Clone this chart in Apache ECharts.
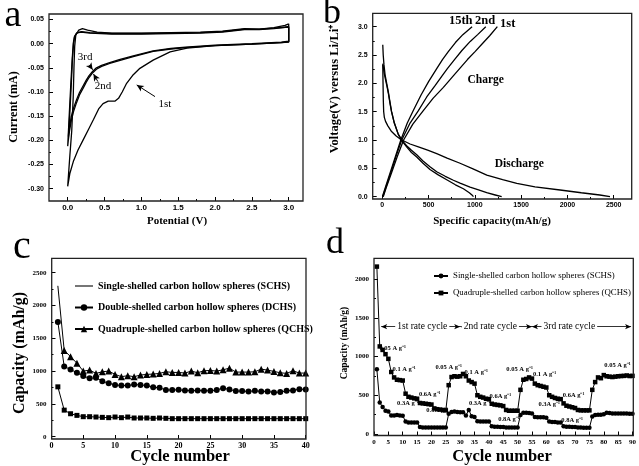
<!DOCTYPE html>
<html><head><meta charset="utf-8">
<script src="https://cdn.jsdelivr.net/npm/echarts@6/dist/echarts.min.js"></script>
<style>html,body{margin:0;padding:0;background:#fff}#c{width:639px;height:466px}</style>
</head><body><div id="c"></div>
<script>
const SERIF = "'Liberation Serif','Times New Roman',serif";
const SANS = "'Liberation Sans',Arial,sans-serif";

// ---------------- Panel a: cyclic voltammetry (V, mA) ----------------
const cvCycle1 = [[3.00,0.041],[3.00,0.003],[2.90,0.002],[2.50,-0.001],[2.00,-0.004],[1.62,-0.009],[1.39,-0.017],[1.16,-0.034],[0.98,-0.051],[0.88,-0.066],[0.80,-0.082],[0.74,-0.100],[0.69,-0.113],[0.64,-0.119],[0.55,-0.119],[0.48,-0.124],[0.42,-0.135],[0.35,-0.157],[0.28,-0.178],[0.21,-0.199],[0.14,-0.220],[0.08,-0.242],[0.03,-0.268],[0.00,-0.295],[0.03,-0.230],[0.055,-0.180],[0.075,-0.110],[0.085,-0.050],[0.095,-0.005],[0.11,0.018],[0.15,0.028],[0.20,0.031],[0.27,0.028],[0.40,0.024],[0.60,0.022],[1.00,0.022],[1.40,0.023],[1.80,0.024],[2.10,0.026],[2.40,0.031],[2.60,0.030],[2.80,0.033],[2.95,0.038],[3.00,0.041]];
const cvCycle2 = [[3.00,0.036],[3.00,0.004],[2.90,0.002],[2.50,-0.001],[2.00,-0.004],[1.60,-0.008],[1.40,-0.011],[1.16,-0.016],[0.89,-0.027],[0.70,-0.035],[0.57,-0.041],[0.46,-0.047],[0.39,-0.053],[0.34,-0.060],[0.29,-0.070],[0.25,-0.080],[0.21,-0.092],[0.16,-0.106],[0.12,-0.122],[0.08,-0.140],[0.05,-0.158],[0.025,-0.180],[0.008,-0.200],[0.00,-0.212],[0.02,-0.150],[0.04,-0.090],[0.06,-0.035],[0.075,0.000],[0.09,0.014],[0.12,0.022],[0.18,0.024],[0.30,0.022],[0.60,0.020],[1.00,0.020],[1.40,0.021],[1.80,0.022],[2.10,0.024],[2.40,0.029],[2.60,0.029],[2.80,0.031],[2.95,0.034],[3.00,0.036]];
const cvCycle3 = [[3.00,0.034],[3.00,0.005],[2.90,0.003],[2.50,0.000],[2.00,-0.003],[1.60,-0.007],[1.40,-0.010],[1.16,-0.015],[0.89,-0.025],[0.70,-0.033],[0.57,-0.039],[0.46,-0.045],[0.39,-0.050],[0.34,-0.057],[0.29,-0.066],[0.25,-0.076],[0.21,-0.087],[0.16,-0.101],[0.12,-0.116],[0.08,-0.133],[0.05,-0.150],[0.03,-0.168],[0.015,-0.180],[0.01,-0.192],[0.03,-0.140],[0.05,-0.080],[0.065,-0.030],[0.08,0.000],[0.095,0.015],[0.13,0.023],[0.19,0.025],[0.30,0.023],[0.60,0.021],[1.00,0.021],[1.40,0.022],[1.80,0.023],[2.10,0.025],[2.40,0.030],[2.60,0.030],[2.80,0.032],[2.95,0.034],[3.00,0.034]];

// ---------------- Panel b: charge/discharge (mAh/g, V) ----------------
const dis1 = [[5,2.33],[8,2.0],[11,1.7],[15,1.5],[22,1.4],[35,1.33],[60,1.25],[100,1.15],[150,1.07],[200,1.01],[300,0.93],[390,0.88],[490,0.82],[588,0.76],[700,0.68],[840,0.59],[980,0.49],[1129,0.38],[1300,0.30],[1453,0.235],[1650,0.175],[1921,0.118],[2150,0.07],[2350,0.03],[2460,0.0]];
const dis2 = [[5,2.35],[10,2.3],[18,2.2],[30,2.1],[50,1.95],[65,1.83],[85,1.63],[100,1.50],[130,1.30],[173,1.10],[215,0.99],[263,0.90],[315,0.82],[372,0.74],[440,0.63],[515,0.53],[588,0.44],[680,0.36],[768,0.29],[840,0.24],[948,0.17],[1040,0.12],[1128,0.07],[1220,0.03],[1290,0.0]];
const dis15 = [[5,2.68],[10,2.5],[18,2.33],[30,2.15],[50,1.98],[65,1.85],[85,1.65],[100,1.50],[130,1.30],[173,1.10],[215,0.98],[263,0.88],[315,0.78],[372,0.70],[440,0.59],[515,0.48],[600,0.39],[696,0.30],[790,0.21],[876,0.14],[940,0.07],[975,0.02],[985,0.0]];
const chg1 = [[10,0.0],[40,0.15],[100,0.42],[160,0.70],[230,1.0],[330,1.28],[443,1.52],[550,1.74],[660,1.93],[760,2.12],[840,2.27],[920,2.42],[1002,2.56],[1080,2.70],[1160,2.84],[1243,3.0]];
const chg2 = [[5,0.0],[40,0.17],[100,0.46],[150,0.72],[210,1.0],[300,1.30],[390,1.52],[480,1.76],[570,1.96],[640,2.12],[703,2.26],[780,2.42],[860,2.58],[950,2.74],[1030,2.86],[1118,3.0]];
const chg15 = [[5,0.02],[40,0.2],[100,0.5],[150,0.75],[200,1.0],[270,1.30],[335,1.52],[420,1.80],[500,2.03],[588,2.26],[650,2.42],[713,2.56],[790,2.72],[870,2.86],[970,3.0]];

// ---------------- Panel c: cycling at constant rate ----------------
const cyclesC = [1,2,3,4,5,6,7,8,9,10,11,12,13,14,15,16,17,18,19,20,21,22,23,24,25,26,27,28,29,30,31,32,33,34,35,36,37,38,39,40];
const schsC = [760,405,350,325,305,305,300,295,290,300,290,300,285,285,285,280,285,280,275,275,275,275,275,275,275,275,275,275,275,275,275,275,275,275,275,275,275,275,275,275];
const dchsC = [1750,1070,1025,975,925,890,900,845,815,790,780,780,795,790,780,755,745,712,712,715,705,700,705,700,700,712,740,720,695,695,690,700,690,690,675,680,700,705,725,720];
const qchsC = [2300,1315,1220,1120,1000,1015,965,990,1000,950,915,930,915,940,950,955,965,990,980,980,970,1000,975,1005,1010,1000,1020,1045,985,985,985,990,1030,1015,995,975,965,1005,970,970];

// ---------------- Panel d: rate performance ----------------
const cyclesD = [];
for (let i = 1; i <= 90; i++) cyclesD.push(i);
const schsD = [835,405,350,300,290, 240,240,245,240,235, 160,150,150,150,150, 90,85,85,85,85, 85,85,85,85,85, 260,285,290,285,280,
               280,240,310,230,220, 165,160,160,160,160, 100,95,95,90,90, 85,85,85,85,85, 245,275,275,270,265,
               220,215,215,215,210, 160,155,155,150,150, 100,95,95,90,90, 85,85,80,80,80,
               225,245,250,250,255,275,270,265,265,265,265,265,265,260,260];
const qchsD = [2160,1130,1085,1030,970, 800,730,700,695,690, 520,480,470,460,455, 400,395,390,385,380, 330,320,315,310,305, 630,735,745,740,745,
               775,745,690,670,650, 500,480,470,455,450, 390,380,375,370,360, 310,300,300,300,300, 570,700,710,730,715,
               650,630,620,610,600, 500,480,465,455,450, 395,365,355,345,335, 310,305,305,305,305,
               570,670,730,720,760,745,740,735,740,745,748,750,755,748,750];

const legendText = {
  cS: 'Single-shelled carbon hollow spheres (SCHS)',
  cD: 'Double-shelled carbon hollow spheres (DCHS)',
  cQ: 'Quadruple-shelled carbon hollow spheres (QCHS)',
  dS: 'Single-shelled carbon hollow spheres (SCHS)',
  dQ: 'Quadruple-shelled carbon hollow spheres (QCHS)'
};

function zip(xs, ys) { return xs.map((x, i) => [x, ys[i]]); }

function mkAxis(gi, min, max, interval, offset, fmt, fs, margin, minor, fam) {
  return {
    type: 'value', gridIndex: gi, min: min, max: max, interval: interval, offset: offset,
    axisLine: { show: false, onZero: false }, splitLine: { show: false },
    axisTick: { show: true, inside: true, length: 4, lineStyle: { color: '#000', width: 1 } },
    minorTick: { show: minor, splitNumber: 2, length: 2, lineStyle: { color: '#000', width: 1 } },
    axisLabel: { formatter: fmt, fontSize: fs, fontWeight: 'bold', fontFamily: fam || SANS, color: '#000', margin: margin }
  };
}

const chart = echarts.init(document.getElementById('c'), null, { renderer: 'canvas' });

const lineS = (name, data, xi, extra) => Object.assign({
  type: 'line', name: name, data: data, xAxisIndex: xi, yAxisIndex: xi, showSymbol: false, symbol: 'none',
  lineStyle: { color: '#000', width: 1.3 }, itemStyle: { color: '#000' }, clip: false, silent: true, animation: false
}, extra || {});

const arrowMark = (pairs) => ({
  silent: true, symbol: ['none', 'arrow'], symbolSize: [5, 7], label: { show: false },
  lineStyle: { color: '#000', width: 1, type: 'solid' },
  data: pairs.map(p => [{ coord: p[0] }, { coord: p[1] }])
});

const option = {
  animation: false,
  backgroundColor: '#fff',
  grid: [
    { left: 67.7, top: 19.5, width: 221, height: 169.2 },
    { left: 382.3, top: 26.7, width: 231.4, height: 170 },
    { left: 51.5, top: 272.7, width: 254.2, height: 164 },
    { left: 374, top: 279, width: 259.3, height: 155 }
  ],
  xAxis: [
    mkAxis(0, 0, 3, 0.5, 12.3, v => v.toFixed(1), 8, 3, true),
    mkAxis(1, 0, 2500, 500, 2.3, v => String(v), 7, 3, true),
    mkAxis(2, 0, 40, 5, 2.3, v => String(v), 8, 3, false, SERIF),
    mkAxis(3, 0, 90, 5, 1.5, v => String(v), 7, 3, false, SERIF)
  ],
  yAxis: [
    mkAxis(0, -0.30, 0.05, 0.05, 18.7, v => v.toFixed(2), 7, 5, true),
    mkAxis(1, 0, 3, 0.5, 9.6, v => v.toFixed(1), 7, 5, true),
    mkAxis(2, 0, 2500, 500, 0, v => String(v), 7, 5, true, SERIF),
    mkAxis(3, 0, 2000, 500, 0, v => String(v), 7, 5, true, SERIF)
  ],
  legend: [
    {
      orient: 'vertical', left: 69, top: 275, itemGap: 9.5, itemWidth: 18, itemHeight: 8, selectedMode: false,
      data: [{ name: 'cS', icon: 'path://M0,0H20V1.2H0Z' }, 'cD', 'cQ'],
      formatter: n => legendText[n],
      textStyle: { fontFamily: SERIF, fontWeight: 'bold', fontSize: 10, color: '#000', lineHeight: 12 }
    },
    {
      orient: 'vertical', left: 428, top: 265, itemGap: 5, itemWidth: 14, itemHeight: 6, selectedMode: false,
      data: ['dS', 'dQ'],
      formatter: n => legendText[n],
      textStyle: { fontFamily: SERIF, fontSize: 8.8, color: '#000', lineHeight: 12 }
    }
  ],
  series: [
    lineS('cv1', cvCycle1, 0, { markLine: arrowMark([
      [[0.293, -0.044], [0.339, -0.054]],
      [[0.41, -0.0785], [0.35, -0.0626]],
      [[1.185, -0.1095], [0.937, -0.0853]]
    ]) }),
    lineS('cv2', cvCycle2, 0),
    lineS('cv3', cvCycle3, 0),
    lineS('dis1', dis1, 1),
    lineS('dis2', dis2, 1),
    lineS('dis15', dis15, 1),
    lineS('chg1', chg1, 1),
    lineS('chg2', chg2, 1),
    lineS('chg15', chg15, 1),
    lineS('cS', zip(cyclesC, schsC), 2, { showSymbol: true, symbol: 'rect', symbolSize: 5, lineStyle: { color: '#000', width: 1 } }),
    lineS('cD', zip(cyclesC, dchsC), 2, { showSymbol: true, symbol: 'circle', symbolSize: 6, lineStyle: { color: '#000', width: 1 } }),
    lineS('cQ', zip(cyclesC, qchsC).map((p, i) => i === 0 ? { value: p, symbol: 'none' } : p), 2,
      { showSymbol: true, symbol: 'triangle', symbolSize: 7, lineStyle: { color: '#000', width: 1 } }),
    lineS('dS', zip(cyclesD, schsD), 3, { showSymbol: true, symbol: 'circle', symbolSize: 4.5, lineStyle: { color: '#000', width: 1 } }),
    lineS('dQ', zip(cyclesD, qchsD), 3, { showSymbol: true, symbol: 'rect', symbolSize: 4.5, lineStyle: { color: '#000', width: 1 },
      markLine: {
        silent: true, symbol: ['arrow', 'arrow'], symbolSize: [4, 6], label: { show: false },
        lineStyle: { color: '#000', width: 0.8, type: 'solid' },
        data: [
          [{ coord: [2.5, 1385] }, { coord: [30, 1385] }],
          [{ coord: [30, 1385] }, { coord: [55, 1385] }],
          [{ coord: [55, 1385] }, { coord: [89.5, 1385] }],
          [{ coord: [30, 1580], symbol: 'none', lineStyle: { type: [5, 2, 1, 2], width: 1 } }, { coord: [30, -19], symbol: 'none' }],
          [{ coord: [55, 1580], symbol: 'none', lineStyle: { type: [5, 2, 1, 2], width: 1 } }, { coord: [55, -19], symbol: 'none' }]
        ]
      }
    })
  ]
};
chart.setOption(option);

// ---------- decorations & annotations ----------
const frames = [[49, 14, 254, 187], [372.7, 13.3, 259, 185.7], [51.7, 258.3, 254.3, 180.7], [374, 258.3, 259.3, 177.2]];
const g = [];
frames.forEach((f, i) => g.push({ type: 'rect', id: 'fr' + i, silent: true, z: 10,
  shape: { x: f[0], y: f[1], width: f[2], height: f[3] }, style: { fill: null, stroke: '#222', lineWidth: 1.3 } }));

function txt(id, text, x, y, font, opts) {
  g.push(Object.assign({ type: 'text', id: id, x: x, y: y, silent: true, z: 20,
    style: Object.assign({ text: text, font: font, fill: '#000', align: 'center', verticalAlign: 'middle' }, (opts && opts.style) || {}) },
    opts && opts.rotation !== undefined ? { rotation: opts.rotation } : {}));
}
// panel letters
txt('la', 'a', 13, 16, '38px ' + SERIF);
txt('lb', 'b', 332, 14, '36px ' + SERIF);
txt('lc', 'c', 22, 247, '40px ' + SERIF);
txt('ld', 'd', 335, 244, '36px ' + SERIF);
// axis titles
txt('ta1', 'Current (mA)', 14, 107, 'bold 12px ' + SERIF, { rotation: Math.PI / 2 });
txt('ta2', 'Potential (V)', 177, 221, 'bold 11px ' + SERIF);
txt('tb1', 'Voltage(V) versus Li/Li\u207A', 335, 89, 'bold 12.5px ' + SERIF, { rotation: Math.PI / 2 });
txt('tb2', 'Specific capacity(mAh/g)', 492, 221, 'bold 11px ' + SERIF);
txt('tc1', 'Capacity (mAh/g)', 20, 353, 'bold 16px ' + SERIF, { rotation: Math.PI / 2 });
txt('tc2', 'Cycle number', 180, 457, 'bold 16.5px ' + SERIF);
txt('td1', 'Capacity (mAh/g)', 345, 343, 'bold 9.5px ' + SERIF, { rotation: Math.PI / 2 });
txt('td2', 'Cycle number', 502, 457, 'bold 16.5px ' + SERIF);

// data-anchored annotations
const annA = [['3rd', 0.236, -0.0275], ['2nd', 0.48, -0.087], ['1st', 1.32, -0.125]];
const annB = [['15th', 847, 3.106], ['2nd', 1110, 3.106], ['1st', 1355, 3.05], ['Charge', 1117, 2.06], ['Discharge', 1480, 0.57]];
const annDrate = [
  ['0.05 A g\u207B\u00B9', 6.5, 1100], ['0.1 A g\u207B\u00B9', 10.5, 835], ['0.3A g\u207B\u00B9', 11.8, 395], ['0.6A g\u207B\u00B9', 19.4, 510],
  ['0.8A g\u207B\u00B9', 22, 300], ['0.05 A g\u207B\u00B9', 26, 858], ['0.1 A g\u207B\u00B9', 35.6, 790], ['0.3A g\u207B\u00B9', 36.8, 396],
  ['0.6A g\u207B\u00B9', 44, 482], ['0.8A g\u207B\u00B9', 47, 194], ['0.05 A g\u207B\u00B9', 50.7, 834], ['0.1 A g\u207B\u00B9', 59.4, 774],
  ['0.3A g\u207B\u00B9', 61, 387], ['0.6A g\u207B\u00B9', 69.5, 495], ['0.8A g\u207B\u00B9', 69, 181], ['0.05 A g\u207B\u00B9', 84.8, 890]
];
const annDcycle = [['1st rate cycle', 16.8, 1385], ['2nd rate cycle', 40.5, 1385], ['3rd rate cycle', 68, 1385]];

annA.forEach((a, i) => { const p = chart.convertToPixel({ gridIndex: 0 }, [a[1], a[2]]); txt('aa' + i, a[0], p[0], p[1], '11px ' + SERIF); });
annB.forEach((a, i) => { const p = chart.convertToPixel({ gridIndex: 1 }, [a[1], a[2]]); txt('ab' + i, a[0], p[0], p[1], 'bold ' + (i < 3 ? 12.5 : 11.5) + 'px ' + SERIF); });
annDrate.forEach((a, i) => { const p = chart.convertToPixel({ gridIndex: 3 }, [a[1], a[2]]); txt('ad' + i, a[0], p[0], p[1], 'bold 6.5px ' + SERIF); });
annDcycle.forEach((a, i) => { const p = chart.convertToPixel({ gridIndex: 3 }, [a[1], a[2]]); txt('ac' + i, a[0], p[0], p[1], '9.5px ' + SERIF, { style: { backgroundColor: '#fff', padding: [0, 2] } }); });

chart.setOption({ graphic: g });
</script></body></html>
